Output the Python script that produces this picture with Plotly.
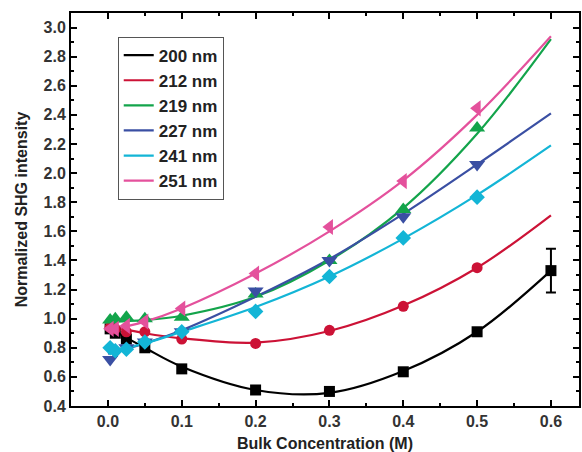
import plotly.graph_objects as go

# ---- data ----
labels = ["200 nm", "212 nm", "219 nm", "227 nm", "241 nm", "251 nm"]
colors = ["#000000", "#cc1236", "#13a44b", "#3a4fa3", "#13b5d6", "#e4519c"]
symbols = ["square", "circle", "triangle-up", "triangle-down", "diamond", "triangle-left"]
msizes = [11, 11, 14, 14, 12, 14]

x_pts = [0.003, 0.01, 0.025, 0.05, 0.1, 0.2, 0.3, 0.4, 0.5]
y_200 = [0.93, 0.90, 0.86, 0.80, 0.655, 0.51, 0.50, 0.635, 0.91]
y_212 = [0.94, 0.93, 0.91, 0.91, 0.86, 0.83, 0.92, 1.085, 1.35]
y_219 = [0.99, 1.00, 1.01, 1.00, 1.01, 1.17, 1.40, 1.75, 2.31]
y_227 = [0.72, 0.77, 0.80, 0.84, 0.91, 1.19, 1.40, 1.70, 2.06]
y_241 = [0.80, 0.78, 0.79, 0.84, 0.91, 1.05, 1.29, 1.555, 1.835]
y_251 = [0.93, 0.93, 0.95, 0.98, 1.07, 1.31, 1.63, 1.945, 2.445]

# extra point with error bar for 200 nm
x_err = [0.6]
y_err_pt = [1.33]
err_val = [0.15]

# fitted curves
x_fit = [0.0, 0.05, 0.1, 0.2, 0.3, 0.4, 0.5, 0.6]
f_200 = [0.94, 0.80, 0.67, 0.51, 0.49, 0.64, 0.91, 1.33]
f_212 = [0.95, 0.90, 0.865, 0.835, 0.915, 1.09, 1.35, 1.71]
f_219 = [0.98, 0.99, 1.02, 1.15, 1.40, 1.76, 2.27, 2.92]
f_227 = [0.76, 0.83, 0.92, 1.15, 1.41, 1.72, 2.06, 2.41]
f_241 = [0.77, 0.83, 0.91, 1.08, 1.29, 1.55, 1.85, 2.19]
f_251 = [0.92, 0.98, 1.07, 1.31, 1.60, 1.95, 2.40, 2.94]

pts = [y_200, y_212, y_219, y_227, y_241, y_251]
fits = [f_200, f_212, f_219, f_227, f_241, f_251]

fig = go.Figure()
for lab, c, yf in zip(labels, colors, fits):
    fig.add_trace(go.Scatter(x=x_fit, y=yf, mode="lines", name=lab,
                             line=dict(color=c, width=2.2, shape="spline"),
                             showlegend=True))
for lab, c, s, ms, yp in zip(labels, colors, symbols, msizes, pts):
    fig.add_trace(go.Scatter(x=x_pts, y=yp, mode="markers", name=lab,
                             marker=dict(color=c, symbol=s, size=ms, line=dict(width=0)),
                             showlegend=False))
fig.add_trace(go.Scatter(x=x_err, y=y_err_pt, mode="markers", showlegend=False,
                         marker=dict(color=colors[0], symbol="square", size=11),
                         error_y=dict(type="data", array=err_val, visible=True,
                                      color="#000000", thickness=2, width=5)))

tick_font = dict(family="Liberation Sans, Arial", size=16, color="#333333", weight="bold")
title_font = dict(family="Liberation Sans, Arial", size=16, color="#222222", weight="bold")

fig.update_layout(
    width=582, height=452,
    margin=dict(l=71, r=1, t=13, b=45),
    plot_bgcolor="white", paper_bgcolor="white",
    showlegend=True,
    legend=dict(x=0.092, y=0.94, xanchor="left", yanchor="top",
                bordercolor="#555555", borderwidth=1, bgcolor="white",
                font=dict(family="Liberation Sans, Arial", size=17, color="#222222", weight="bold"),
                tracegroupgap=0, itemwidth=30),
    xaxis=dict(range=[-0.05, 0.638], dtick=0.1, tick0=0, tickformat=".1f",
               showgrid=False, zeroline=False, showline=True, linecolor="black", linewidth=2,
               mirror="ticks", ticks="inside", ticklen=6, tickwidth=2, tickcolor="black",
               minor=dict(ticks="inside", ticklen=3, tickwidth=1.5, dtick=0.05, tick0=0, tickcolor="black"),
               tickfont=tick_font,
               title=dict(text="Bulk Concentration (M)", font=title_font, standoff=10)),
    yaxis=dict(range=[0.4, 3.1], dtick=0.2, tick0=0.4, tickformat=".1f",
               showgrid=False, zeroline=False, showline=True, linecolor="black", linewidth=2,
               mirror="ticks", ticks="inside", ticklen=6, tickwidth=2, tickcolor="black",
               minor=dict(ticks="inside", ticklen=3, tickwidth=1.5, dtick=0.1, tick0=0.4, tickcolor="black"),
               tickfont=tick_font,
               title=dict(text="Normalized SHG intensity", font=title_font, standoff=12)),
)

fig.write_html("out.html")
